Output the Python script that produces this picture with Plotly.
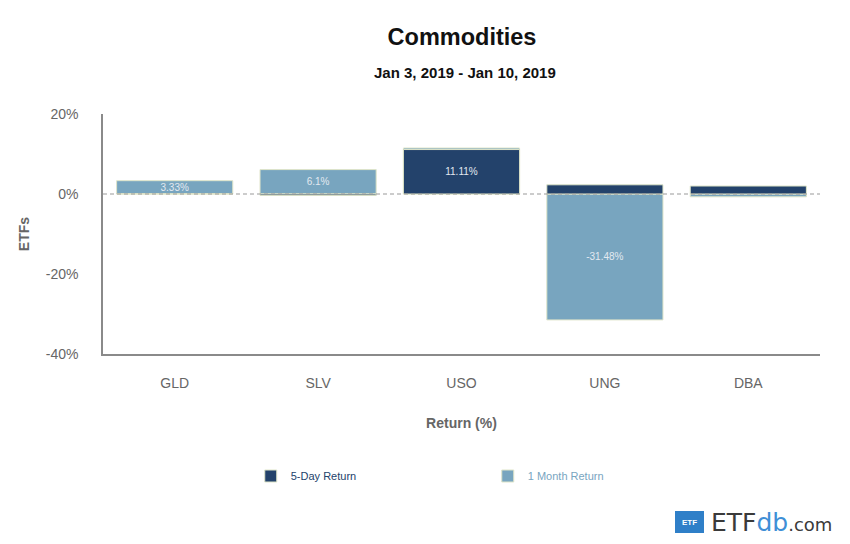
import plotly.graph_objects as go

categories = ["GLD", "SLV", "USO", "UNG", "DBA"]
five_day = [0.1, -0.35, 11.11, 2.3, 2.0]
one_month = [3.33, 6.1, 11.5, -31.48, -0.7]
five_day_labels = ["", "", "11.11%", "", ""]
one_month_labels = ["3.33%", "6.1%", "", "-31.48%", ""]
y_ticks = [20, 0, -20, -40]
y_tick_labels = ["20%", "0%", "-20%", "-40%"]

DARK = "#23426b"
LIGHT = "#78a5bf"
FONT = "Arial, Liberation Sans, sans-serif"

fig = go.Figure()
fig.add_trace(go.Bar(
    x=categories, y=one_month, name=f"<span style='color:{LIGHT}'>1 Month Return</span>",
    marker=dict(color=LIGHT, line=dict(color="#dfe5c9", width=1)),
    text=one_month_labels, textposition="inside", insidetextanchor="middle",
    textfont=dict(color="#e2e9f0", size=10, family=FONT), textangle=0,
    legendrank=2,
))
fig.add_trace(go.Bar(
    x=categories, y=five_day, name=f"<span style='color:{DARK}'>5-Day Return</span>",
    marker=dict(color=DARK, line=dict(color="#dfe5c9", width=1)),
    text=five_day_labels, textposition="inside", insidetextanchor="middle",
    textfont=dict(color="#e2e9f0", size=10, family=FONT), textangle=0,
    legendrank=1,
))

fig.add_shape(type="line", xref="paper", x0=0, x1=1, yref="y", y0=0, y1=0,
              line=dict(color="#9a9a9a", width=1.2, dash="4px,3px"), layer="above")

fig.update_layout(
    width=850, height=544,
    barmode="overlay", bargap=0.19,
    uniformtext=dict(minsize=10, mode="show"),
    paper_bgcolor="white", plot_bgcolor="white",
    margin=dict(l=103, r=30, t=114, b=190),
    font=dict(family=FONT, color="#666666"),
    title=dict(
        text="<b>Commodities</b>",
        xref="container", x=462 / 850, xanchor="center",
        yref="container", y=1 - 37 / 544, yanchor="middle",
        font=dict(size=23.5, color="#111111", family=FONT),
    ),
    xaxis=dict(
        showline=True, linecolor="#8a8a8a", linewidth=1.5, showgrid=False, zeroline=False,
        ticks="", tickfont=dict(size=14, color="#666666"), ticklabelstandoff=15,
        title=dict(text="<b>Return (%)</b>", font=dict(size=14, color="#666666"), standoff=29),
    ),
    yaxis=dict(
        range=[-40, 20], tickvals=y_ticks, ticktext=y_tick_labels,
        showline=True, linecolor="#8a8a8a", linewidth=1.5, showgrid=False, zeroline=False,
        ticks="", tickfont=dict(size=14, color="#666666"), ticklabelstandoff=20,
        title=dict(text="<b>ETFs</b>", font=dict(size=14, color="#666666"), standoff=13),
    ),
    legend=dict(
        orientation="h", xref="container", yref="container",
        x=0.295, xanchor="left", y=0.125, yanchor="middle",
        entrywidth=192, entrywidthmode="pixels",
        font=dict(size=11, family=FONT), itemclick=False,
        traceorder="normal",
    ),
)

fig.add_annotation(xref="paper", yref="paper", x=(465 - 103) / 717, y=1 + (114 - 73) / 240,
                   yanchor="middle", text="<b>Jan 3, 2019 - Jan 10, 2019</b>", showarrow=False,
                   font=dict(size=15, color="#111111", family=FONT))

# ETFdb logo
fig.add_shape(type="rect", xref="paper", yref="paper",
              x0=(675 - 103) / 717, x1=(704 - 103) / 717,
              y0=-(511 - 354) / 240, y1=-(533 - 354) / 240,
              fillcolor="#2f7fc8", line=dict(width=0))
fig.add_annotation(xref="paper", yref="paper", x=(689.5 - 103) / 717, y=-(522 - 354) / 240,
                   xanchor="center", yanchor="middle",
                   text="<b>ETF</b>", showarrow=False, font=dict(size=8, color="white", family=FONT))
fig.add_annotation(xref="paper", yref="paper", x=(709 - 103) / 717, xanchor="left",
                   y=-(522 - 354) / 240, yanchor="middle",
                   text="<span style='color:#3a3a3a'>ETF</span><span style='color:#3f8fd6'>db</span>"
                        "<span style='color:#3a3a3a;font-size:18px'>.com</span>",
                   showarrow=False, font=dict(size=25, family="DejaVu Sans"))

fig.write_html("out.html", config={"displayModeBar": False},
               post_script="document.body.style.margin='0';")
